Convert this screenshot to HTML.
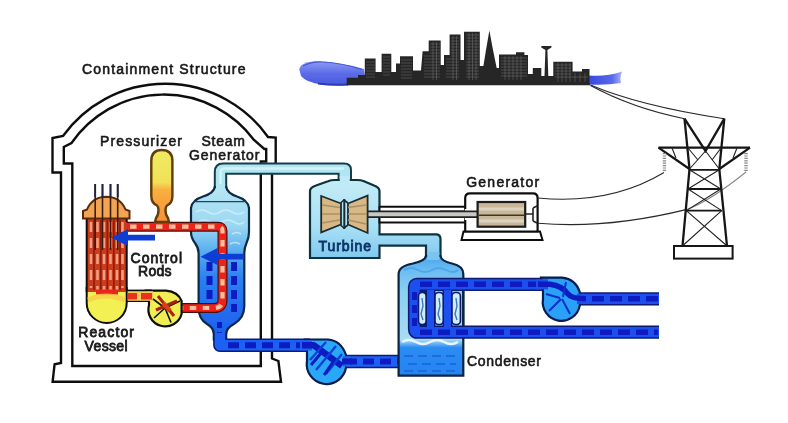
<!DOCTYPE html>
<html><head><meta charset="utf-8"><title>PWR</title>
<style>
html,body{margin:0;padding:0;background:#fff;}
body{width:788px;height:423px;overflow:hidden;font-family:"Liberation Sans",sans-serif;}
svg{display:block}
text{font-family:"Liberation Sans",sans-serif;font-size:14px;fill:#1a1a1a;stroke:#1a1a1a;stroke-width:.6px}
</style></head><body>
<svg width="788" height="423" viewBox="0 0 788 423">
<defs>
<linearGradient id="gPress" x1="0" y1="0" x2="0" y2="1"><stop offset="0" stop-color="#f0ec62"/><stop offset=".45" stop-color="#f2e058"/><stop offset=".55" stop-color="#f8b040"/><stop offset="1" stop-color="#f89038"/></linearGradient>
<linearGradient id="gSG" x1="0" y1="0" x2="0" y2="1"><stop offset="0" stop-color="#b6e6f4"/><stop offset=".25" stop-color="#9cd8f2"/><stop offset=".42" stop-color="#5aaef0"/><stop offset=".6" stop-color="#2a80f0"/><stop offset="1" stop-color="#1c5cf0"/></linearGradient>
<linearGradient id="gTurb" x1="0" y1="0" x2="0" y2="1"><stop offset="0" stop-color="#c4ecf6"/><stop offset=".6" stop-color="#a8e0f4"/><stop offset="1" stop-color="#80c8f0"/></linearGradient>
<linearGradient id="gCond" x1="0" y1="0" x2="0" y2="1"><stop offset="0" stop-color="#4aa6ee"/><stop offset=".12" stop-color="#6cbcf0"/><stop offset=".3" stop-color="#8cd0f2"/><stop offset=".7" stop-color="#a8dcf4"/><stop offset=".765" stop-color="#2c8cf2"/><stop offset="1" stop-color="#2484f0"/></linearGradient>
<linearGradient id="gBlob" x1="0" y1="0" x2="0" y2="1"><stop offset="0" stop-color="#8c9cf2"/><stop offset=".5" stop-color="#5c6ce8"/><stop offset="1" stop-color="#4858e0"/></linearGradient>
<linearGradient id="gBlobR" x1="0" y1="0" x2="1" y2="0"><stop offset="0" stop-color="#3a4ae0"/><stop offset=".7" stop-color="#5868ea"/><stop offset="1" stop-color="#a8b4f6"/></linearGradient>
<filter id="soft" x="-5%" y="-5%" width="110%" height="110%"><feGaussianBlur stdDeviation="0.65"/></filter>
</defs>
<rect width="788" height="423" fill="#fff"/>
<g filter="url(#soft)">

<!-- ============ CONTAINMENT ============ -->
<g id="containment" fill="#fff" stroke="#111" stroke-width="2.4" stroke-linejoin="miter">
<path d="M52.6 381.8 L54.6 364.2 L61 363 L61 172.5 L52.5 172.5 L52.5 138 L63 136 A126 126 0 0 1 268 137 L275.7 137.5 L275.7 172 L272 172 L272 358.5 L278.4 361 L281 381.8 Z"/>
<path d="M72.3 366 L72.3 163.5 L63.8 163.5 L63.8 147 L71.5 143 A112.2 112.2 0 0 1 254 140 L264.3 149 L266.2 149 L266.2 161.5 L260.8 161.5 L260.8 366 Z"/>
</g>

<!-- ============ STEAM PIPE (SG -> turbine) ============ -->
<path d="M214.8 190 L214.8 172 Q214.8 163.5 223 163.5 L344 163.5 Q351 163.5 351 170 L351 181 L338.6 181 L338.6 173.8 L226.2 173.8 L226.2 190 Z" fill="#b0e6f2" stroke="#163c4c" stroke-width="2"/>
<path d="M220.5 188 L220.5 172 Q220.5 168.6 225 168.6 L344 168.6" fill="none" stroke="#d4f2f8" stroke-width="2.5"/>

<!-- ============ STEAM GENERATOR ============ -->
<path id="sgbody" d="M214.8 187 Q214 193 203 196.5 Q192 200 191 208 L191 232 Q191 238 195 243 Q198.6 248 198.6 253 L198.6 308 Q198.6 319 207 324 Q213.8 328 213.8 334 L213.8 339.5 L226.2 339.5 L226.2 334 Q226.2 328 234 324 Q244.3 318 244.3 306 L244.3 253 Q244.3 248 246.5 243 Q249 238 249 232 L249 208 Q248 200 237 196.5 Q227 193 226.2 187 Z" fill="url(#gSG)" stroke="#0e2c44" stroke-width="2.2"/>
<path d="M193 201.6 L247 201.6" stroke="#1c4458" stroke-width="1.3"/>
<path d="M196 212 q6 -4 12 0 t12 0 t12 0 t12 0 M198 222 q6 -4 12 0 t12 0 t12 0 t10 0 M232 234 q5 -3 9 0 M230 244 q5 -3 10 0" stroke="#d8f2fa" stroke-width="1.6" fill="none" opacity=".7"/>
<rect x="216" y="184" width="9.1" height="8" fill="#b4e6f3"/>
<!-- dark dashes inside lower SG -->
<path d="M209.5 262 L209.5 318" stroke="#0a1cc0" stroke-width="6" stroke-dasharray="9 5" fill="none"/>
<path d="M234 262 L234 312" stroke="#0a1cc0" stroke-width="6" stroke-dasharray="9 5" fill="none"/>
<path d="M219.5 322 L219.5 338" stroke="#0a1cc0" stroke-width="5" stroke-dasharray="6 4" fill="none"/>

<!-- ============ PRIMARY LOOP (red) ============ -->
<g fill="none" stroke-linejoin="round">
<path d="M124 226.7 L218 226.7 Q222.5 226.7 222.5 231 L222.5 300 Q222.5 308 214 308 L182 308" stroke="#4a0c10" stroke-width="10"/>
<path d="M124 226.7 L218 226.7 Q222.5 226.7 222.5 231 L222.5 300 Q222.5 308 214 308 L182 308" stroke="#ee2418" stroke-width="7.6"/>
<path d="M130 226.7 L218 226.7 Q222.5 226.7 222.5 231 L222.5 300 Q222.5 308 214 308 L182 308" stroke="#fbc09c" stroke-width="4.2" stroke-dasharray="6.5 6.5"/>
</g>

<!-- ============ PRESSURIZER ============ -->
<path d="M151.3 161 Q151.3 150 161.8 150 Q172.4 150 172.4 161 L172.4 196 Q172.4 203 167 205.5 Q165.5 207 165.5 210 Q165.5 215 168 218 L169 222 L155 222 L156 218 Q158.5 215 158.5 210 Q158.5 207 157 205.5 Q151.3 203 151.3 196 Z" fill="url(#gPress)" stroke="#5e3c08" stroke-width="2.4"/>

<!-- ============ REACTOR VESSEL ============ -->
<!-- bottom head -->
<path d="M86.7 288 L86.7 303 A20 20 0 0 0 126.7 303 L126.7 288 Z" fill="#f2f052" stroke="#111" stroke-width="2"/>
<!-- body -->
<rect x="86.7" y="217" width="40" height="75" fill="#cc3a1c" stroke="none"/>
<path d="M91 222 L91 288 M97.5 222 L97.5 290 M104 222 L104 290 M110.5 222 L110.5 290 M117 222 L117 290 M122.5 222 L122.5 288" stroke="#f0a080" stroke-width="2.6" stroke-dasharray="10 6" fill="none"/>
<path d="M94 220 L94 290 M100.8 220 L100.8 290 M107.3 220 L107.3 290 M113.8 220 L113.8 290 M120 220 L120 290" stroke="#8c1c08" stroke-width="1.6" fill="none"/>
<path d="M96 292 L118 292" stroke="#e8281c" stroke-width="5"/>
<path d="M88 300 q18 -8 37 0" stroke="#f8c848" stroke-width="5" fill="none" opacity=".7"/>
<path d="M86.7 217 L86.7 292 M126.7 231.5 L126.7 290.5 M126.7 217 L126.7 222" stroke="#111" stroke-width="2" fill="none"/>
<!-- head -->
<path d="M83 218.6 L83 211 L87 209.5 Q92 197 106.3 196.7 Q120.5 197 125.5 209.5 L129.5 211 L129.5 218.6 Z" fill="#f2a452" stroke="#5a2c08" stroke-width="2"/>
<!-- control rods -->
<path d="M95.2 184 L95.2 250 M102.5 184 L102.5 250 M110.5 184 L110.5 250 M117.7 184 L117.7 250" stroke="#3a1c10" stroke-width="1.6" fill="none"/>
<path d="M95.2 184 L95.2 197 M102.5 184 L102.5 197 M110.5 184 L110.5 197 M117.7 184 L117.7 197" stroke="#1c2440" stroke-width="1.8" fill="none"/>

<!-- ============ PRIMARY PUMP ============ -->
<path d="M126 295.8 L152 295.8" stroke="#111" stroke-width="12.4" fill="none"/>
<path d="M146 290.6 L166 290.6 Q178 291.6 181.6 301 L181.6 314 A16.8 16.8 0 0 1 149 305 L149 301 Z" fill="#f0ee52" stroke="#111" stroke-width="2.2"/>
<path d="M127.6 296 L153 296" stroke="#f6cc58" stroke-width="9.6" fill="none"/>
<path d="M128 296.2 L137 296.2 M141 296.2 L152 296.2" stroke="#e8301c" stroke-width="6.4" fill="none"/>
<path d="M165 308 L154 318 M165 308 L171 322.5 M165 308 L180 301 M165 308 L153 299" stroke="#111" stroke-width="1.6" fill="none"/>
<path d="M158 296 L174 316 M156 310 L177 301" stroke="#a8240c" stroke-width="3" fill="none"/>
<path d="M163 303 L170 311" stroke="#d8401c" stroke-width="4.5" fill="none"/>

<!-- ============ BLUE ARROWS ============ -->
<path d="M111.4 237.6 L128 229 L128 234.8 L155 234.8 L155 240.6 L128 240.6 L128 246.2 Z" fill="#0c3cd2"/>
<path d="M200.5 256.7 L217.6 248 L217.6 253.8 L244 253.8 L244 259.6 L217.6 259.6 L217.6 265 Z" fill="#0c3cd2"/>

<!-- ============ FEED WATER PIPE (condenser -> SG) ============ -->
<g fill="none">
<path d="M219.9 333 L219.9 345.3 L310 345.3" stroke="#0a1a70" stroke-width="13.5" stroke-linejoin="round"/>
<path d="M219.9 333 L219.9 345.3 L310 345.3" stroke="#1e60f4" stroke-width="10.5" stroke-linejoin="round"/>
<path d="M228 345.3 L310 345.3" stroke="#0a1cc0" stroke-width="6" stroke-dasharray="11 6"/>
<path d="M340 361.4 L399 361.4" stroke="#0a1a70" stroke-width="13.5"/>
<path d="M340 361.4 L404 361.4" stroke="#1e60f4" stroke-width="10.5"/>
<path d="M346 361.4 L398 361.4" stroke="#0a1cc0" stroke-width="6" stroke-dasharray="11 6"/>
</g>
<!-- containment wall redraw over feed pipe is not needed: pipe is in front -->

<!-- feed pump -->
<path d="M305 339.5 L328 339.5 Q341 340.5 346 355 L346 367.5 A19.6 19.6 0 0 1 307 361 L307 351 Z" fill="#2aa8f8" stroke="#0a1a50" stroke-width="2.2"/>
<path d="M300 345.3 L312 345.3" stroke="#1e60f4" stroke-width="10.5" fill="none"/>
<path d="M343 361.4 L350 361.4" stroke="#1e60f4" stroke-width="10.5" fill="none"/>
<path d="M302 345.3 L314 345.3 L342 366 " stroke="#0a1cc0" stroke-width="6.5" fill="none" stroke-linejoin="round"/>
<path d="M342 361.4 L352 361.4" stroke="#0a1cc0" stroke-width="6" fill="none"/>
<path d="M336 346 L316 370 M342 354 L326 374 M326 342 L310 360" stroke="#0a40d8" stroke-width="2.4" fill="none"/>
<path d="M322 352 L311 365 M333 362 L324 375" stroke="#0a1cc0" stroke-width="3" fill="none"/>

<!-- ============ TURBINE ============ -->
<path d="M310 258 L310 191 Q310 187.5 316 185.5 L328 181.2 Q331 180 335 180 L357 180 Q361 180 364 181.2 L374 185.5 Q379.5 187.5 379.5 191 L379.5 206.7 L379.5 222.9 L379.5 234.3 L436 234.3 Q440.5 234.3 440.5 239 L440.5 257 L426 257 L426 245.7 L379.5 245.7 L379.5 258 Z" fill="url(#gTurb)" stroke="#10303e" stroke-width="2.2"/>
<rect x="339.8" y="176" width="10" height="8" fill="#bfeaf5"/>
<!-- shaft casing -->
<path d="M379.5 206.7 L466 206.7 L466 222.5 L379.5 222.5 Z" fill="#fff" stroke="#111" stroke-width="2"/>
<path d="M348 214.2 L478 214.2" stroke="#222" stroke-width="7.4"/>
<path d="M348 214.2 L478 214.2" stroke="#c8c8c4" stroke-width="4"/>
<!-- blades -->
<path d="M321.2 196 L341 203.5 L341 224.5 L321.2 232.4 Z" fill="#d8b884" stroke="#1c2c34" stroke-width="1.8"/>
<path d="M367.6 195.6 L348 203.5 L348 224.5 L367.6 233 Z" fill="#d8b884" stroke="#1c2c34" stroke-width="1.8"/>
<path d="M322 205 L340 207.5 M322 214 L340 214 M322 223 L340 220 M366 205 L348 207.5 M366 214 L348 214 M366 224 L348 220" stroke="#a89068" stroke-width="1.4" fill="none"/>
<path d="M344.3 199 L344.3 229" stroke="#1c2c34" stroke-width="2"/>
<path d="M340.5 203 L344 200 L348 203 M340.5 225 L344 228 L348 225" stroke="#1c2c34" stroke-width="1.6" fill="none"/>

<!-- ============ GENERATOR ============ -->
<path d="M461.5 240 L463.5 231.5 L540 231.5 L542.5 240 Z" fill="#fff" stroke="#111" stroke-width="2"/>
<path d="M465.2 231.5 L465.2 198 Q465.2 193.3 470 193.3 L533 193.3 Q537.6 193.3 537.6 198 L537.6 231.5 Z" fill="#fff" stroke="#111" stroke-width="2.2"/>
<path d="M466.3 209 L466.3 220" stroke="#fff" stroke-width="3"/>
<path d="M440 214.2 L478 214.2" stroke="#222" stroke-width="7.4"/>
<path d="M440 214.2 L478 214.2" stroke="#c8c8c4" stroke-width="4"/>
<rect x="477.6" y="202" width="47.6" height="24.7" fill="#c8b898" stroke="#1a1a1a" stroke-width="2.2"/>
<path d="M479 209 L524 209 M479 221 L524 221" stroke="#dcd4c0" stroke-width="3"/>
<path d="M479 215.2 L524 215.2" stroke="#3a3428" stroke-width="1.6"/>
<path d="M525.2 214 L533 214 M533 208 L533 221 M533 208 L537 206 M533 221 L537 223" stroke="#222" stroke-width="1.6" fill="none"/>

<!-- ============ CONDENSER ============ -->
<path d="M426 256 Q425 261 413 263.5 Q398.6 266 398.6 274 L398.6 375.7 L463.3 375.7 L463.3 274 Q463.3 266 452 263.5 Q441 261 440.5 256 Z" fill="url(#gCond)" stroke="#0c2440" stroke-width="2.2"/>
<rect x="427.2" y="252" width="12.1" height="8" fill="#7cc4f0"/>
<path d="M404 270 q7 -4 14 0 t14 0 t14 0 t12 0" stroke="#4aa8ec" stroke-width="2" fill="none"/>
<path d="M402 342 q7 -4 14 0 t14 0 t14 0 t14 0" stroke="#e8f6fc" stroke-width="2.4" fill="none"/>
<path d="M404 356 L458 356 M408 364 L456 364 M404 371 L458 371" stroke="#1a60e0" stroke-width="1.6" stroke-dasharray="9 5" fill="none"/>

<!-- cooling water loops -->
<g fill="none">
<path d="M548 284.3 L417 284.3 Q414.5 284.3 414.5 287 L414.5 329 Q414.5 332.2 417 332.2 L661 332.2" stroke="#0a1a70" stroke-width="13.2" />
<path d="M422 290 L422 327 M430.5 290 L430.5 327 M447.5 290 L447.5 327" stroke="#0a1a70" stroke-width="10"/>
<path d="M548 284.3 L417 284.3 Q414.5 284.3 414.5 287 L414.5 329 Q414.5 332.2 417 332.2 L661 332.2" stroke="#1c50ee" stroke-width="10.2"/>
<path d="M430.5 290 L430.5 327 M447.5 290 L447.5 327" stroke="#1c50ee" stroke-width="7"/>
</g>
<path d="M463.3 291 L463.3 326" stroke="#0c2440" stroke-width="2.2"/>
<!-- slots -->
<rect x="418.5" y="292.5" width="7.6" height="32" rx="3.5" fill="#cfeefa" stroke="#0a1a70" stroke-width="1.6"/>
<rect x="435" y="292.5" width="8.2" height="32" rx="3.5" fill="#cfeefa" stroke="#0a1a70" stroke-width="1.6"/>
<rect x="452" y="292.5" width="8.4" height="32" rx="3.5" fill="#cfeefa" stroke="#0a1a70" stroke-width="1.6"/>
<path d="M422 298 l1 8 l-2 8 l2 6 M439 298 l1 8 l-2 8 l2 6 M456 298 l1 8 l-2 8 l2 6" stroke="#3a78c8" stroke-width="1.4" fill="none"/>
<!-- pump on top loop -->
<path d="M661 298.8 L578 298.8" stroke="#0a1a70" stroke-width="13.2" fill="none"/>
<path d="M661 298.8 L576 298.8" stroke="#1c50ee" stroke-width="10.2" fill="none"/>
<path d="M541 277.7 L562 277.7 Q575.5 279 579.8 292.2 L579.8 305.4 A18.2 18.2 0 0 1 543 299 L543 290.9 Z" fill="#2aa0f8" stroke="#0a1a50" stroke-width="2.2"/>
<path d="M536 284.3 L548 284.3" stroke="#1c50ee" stroke-width="10.2" fill="none"/>
<path d="M577 298.8 L584 298.8" stroke="#1c50ee" stroke-width="10.2" fill="none"/>
<path d="M538 284.3 L550 284.3 Q562 286 567 293 Q571 298.8 586 298.8" stroke="#0a1cc0" stroke-width="5.5" fill="none"/>
<path d="M561 299 L549 311 M562 299 L570 314 M560 298 L546 294 M563 297 L566 282" stroke="#0a30c8" stroke-width="2" fill="none"/>
<!-- dashes -->
<g fill="none" stroke="#0a1cc0" stroke-width="5.5" stroke-dasharray="12 6">
<path d="M420 284.3 L536 284.3"/>
<path d="M592 298.8 L658 298.8"/>
<path d="M420 332.2 L658 332.2"/>
</g>
<path d="M414.5 292 L414.5 326" stroke="#0a1cc0" stroke-width="5" stroke-dasharray="8 5" fill="none"/>
<rect x="659" y="290" width="4" height="52" fill="#fff"/>

<!-- ============ WIRES ============ -->
<g fill="none" stroke="#2a2a2a" stroke-width="1.1">
<path d="M590.5 85 Q640 106 724.3 118.7"/>
<path d="M590.5 85.5 Q632 108 684.5 118.7"/>
<path d="M538 198 C580 202 625 196 664 172.5"/>
<path d="M538 223.2 C580 227 630 223.5 687 209.4"/>
<path d="M687 209.4 Q709.5 201.3 746 172" stroke="#888"/>
</g>

<!-- ============ TOWER ============ -->
<g fill="none" stroke="#151515" stroke-width="2.3" stroke-linejoin="miter">
<path d="M684.5 118.7 L689.5 169 L682.5 246"/>
<path d="M724.3 118.7 L719.3 169 L727 246"/>
<path d="M684.5 118.7 L705.5 151 L724.3 118.7"/>
<path d="M658.5 147.6 L750 147.6"/>
<path d="M658.5 147.6 L689.5 169 M750 147.6 L719.3 169"/>
<path d="M689.5 169.8 L719.3 169.8 M688 189 L720.8 189 M686.3 210.6 L721.7 210.6" stroke-width="1.8"/>
</g>
<g fill="none" stroke="#222" stroke-width="1.1">
<path d="M705.5 151 L689.5 169 M705.5 151 L719.3 169"/>
<path d="M688 148 L698 160 M721 148 L712 160"/>
<path d="M689.5 169.8 L720.8 189 M719.3 169.8 L688 189"/>
<path d="M688 189 L721.7 210.6 M720.8 189 L686.3 210.6"/>
<path d="M686.3 210.6 L726 245 M721.7 210.6 L683.5 245"/>
<path d="M672 148 L676 158 M737 148 L733 158"/>
</g>
<path d="M664.4 153 L664.4 172 M746 153 L746 172" stroke="#888" stroke-width="3.4" stroke-dasharray="1.2 1.2" fill="none"/>
<rect x="674" y="246" width="58.6" height="12.6" fill="#fff" stroke="#151515" stroke-width="2"/>

<!-- ============ CITY ============ -->
<path d="M299.2 69 Q300 63 314 61.3 Q336 61 364 69 L366 84 Q340 86.5 322 84.5 Q306 82.5 301 76 Z" fill="url(#gBlob)"/>
<path d="M303 66 Q312 61.5 322 62 Q342 63 362 69.5" stroke="#4656d4" stroke-width="1.2" fill="none"/>
<path d="M318 83.5 Q332 85.5 348 84.5" stroke="#2c3cb4" stroke-width="2" fill="none"/>
<path d="M589 75.5 Q606 77 622 71.5 Q619.5 78 621 83 Q605 85.5 589 84.5 Z" fill="url(#gBlobR)"/>
<path fill="#262626" d="M346.7 84 L346.7 77.8 L358 77.8 L358 75 L364.8 75 L364.8 58.6 L375.6 58.6 L375.6 72 L381.6 72 L381.6 53.8 L391.3 53.8 L391.3 72 L396 72 L396 63.4 L400 63.4 L400 56.2 L413 56.2 L413 70.6 L421 70.6 L422.6 51.3 L428.7 51.3 L428.7 40.5 L440.7 40.5 L440.7 65 L444 65 L444 55 L449.6 55 L449.6 34.5 L460.5 34.5 L460.5 60 L464 60 L464 31.7 L479.8 31.7 L479.8 66 L483.4 66 L486 50 L489.4 30.5 L493 50 L496.7 68 L499 68 L499 54.6 L516 54.6 L516 52.2 L524.4 52.2 L524.4 55 L528 55 L528 74 L532.8 74 L532.8 67.9 L541.3 67.9 L541.3 76 L544.5 76 L545.4 50 L541.3 47.5 L541.3 46 L551.4 46 L551.4 47.5 L547.4 50 L548.3 76 L553.3 76 L553.3 61.8 L572.6 61.8 L572.6 71.5 L582 71.5 L582 69 L589.5 69 L589.5 84 Z"/>
<path d="M346.7 84.3 L590 84.3" stroke="#262626" stroke-width="2"/>
<g stroke="#7a7a7a" stroke-width=".6" opacity=".8" fill="none">
<path d="M366 62 H375 M366 65 H375 M366 68 H375 M366 71 H375 M366 74 H375 M366 77 H375 M383 57 H390 M383 60 H390 M383 63 H390 M383 66 H390 M383 69 H390 M383 72 H390 M383 75 H390"/>
<path d="M401 60 H412 M401 63 H412 M401 66 H412 M401 69 H412 M401 72 H412 M401 75 H412 M401 78 H412"/>
<path d="M430 44 H440 M430 47 H440 M430 50 H440 M430 53 H440 M424 56 H440 M424 59 H440 M424 62 H440 M424 65 H440 M424 68 H440 M424 71 H440 M424 74 H440 M424 77 H440"/>
<path d="M451 38 H459 M451 41 H459 M451 44 H459 M451 47 H459 M451 50 H459 M451 53 H459 M451 56 H459 M446 59 H459 M446 62 H459 M446 65 H459 M446 68 H459 M446 71 H459 M446 74 H459 M446 77 H459"/>
<path d="M466 35 H479 M466 38 H479 M466 41 H479 M466 44 H479 M466 47 H479 M466 50 H479 M466 53 H479 M466 56 H479 M466 59 H479 M466 62 H479 M466 65 H479 M466 68 H479 M466 71 H479 M466 74 H479 M466 77 H479"/>
<path d="M469 33 V80 M472.5 33 V80 M476 33 V80 M453 36 V80 M456.5 36 V80 M433 42 V80 M436.5 42 V80"/>
<path d="M501 58 H527 M501 61 H527 M501 64 H527 M501 67 H527 M501 70 H527 M501 73 H527 M501 76 H527 M505 56 V80 M509 56 V80 M513 56 V80 M517 56 V80 M521 56 V80"/>
<path d="M555 65 H571 M555 68 H571 M555 71 H571 M555 74 H571 M555 77 H588 M558 63 V82 M562 63 V82 M566 63 V82 M570 63 V82 M575 73 V82 M580 73 V82 M585 73 V82"/>
</g>

<!-- ============ LABELS ============ -->
<text x="82" y="74.2" textLength="163.5" lengthAdjust="spacing">Containment Structure</text>
<text x="100" y="146.2" textLength="82" lengthAdjust="spacing">Pressurizer</text>
<text x="201.4" y="146.3" textLength="43.5" lengthAdjust="spacing">Steam</text>
<text x="189" y="159.6" textLength="70.5" lengthAdjust="spacing">Generator</text>
<text x="130.5" y="263.3" textLength="51.5" lengthAdjust="spacing" style="stroke-width:.8px">Control</text>
<text x="138" y="275.8" textLength="33.5" lengthAdjust="spacing" style="stroke-width:.8px">Rods</text>
<text x="78.2" y="337" textLength="55.8" lengthAdjust="spacing" style="stroke-width:.8px">Reactor</text>
<text x="84.6" y="351" textLength="43" lengthAdjust="spacing" style="stroke-width:.8px">Vessel</text>
<text x="318.6" y="251.4" textLength="52.5" lengthAdjust="spacing" style="fill:#0c3468;stroke:#0c3468;stroke-width:.8px">Turbine</text>
<text x="466.2" y="186.8" textLength="73" lengthAdjust="spacing">Generator</text>
<text x="467" y="366.3" textLength="74" lengthAdjust="spacing">Condenser</text>

</g>
</svg>
</body></html>
